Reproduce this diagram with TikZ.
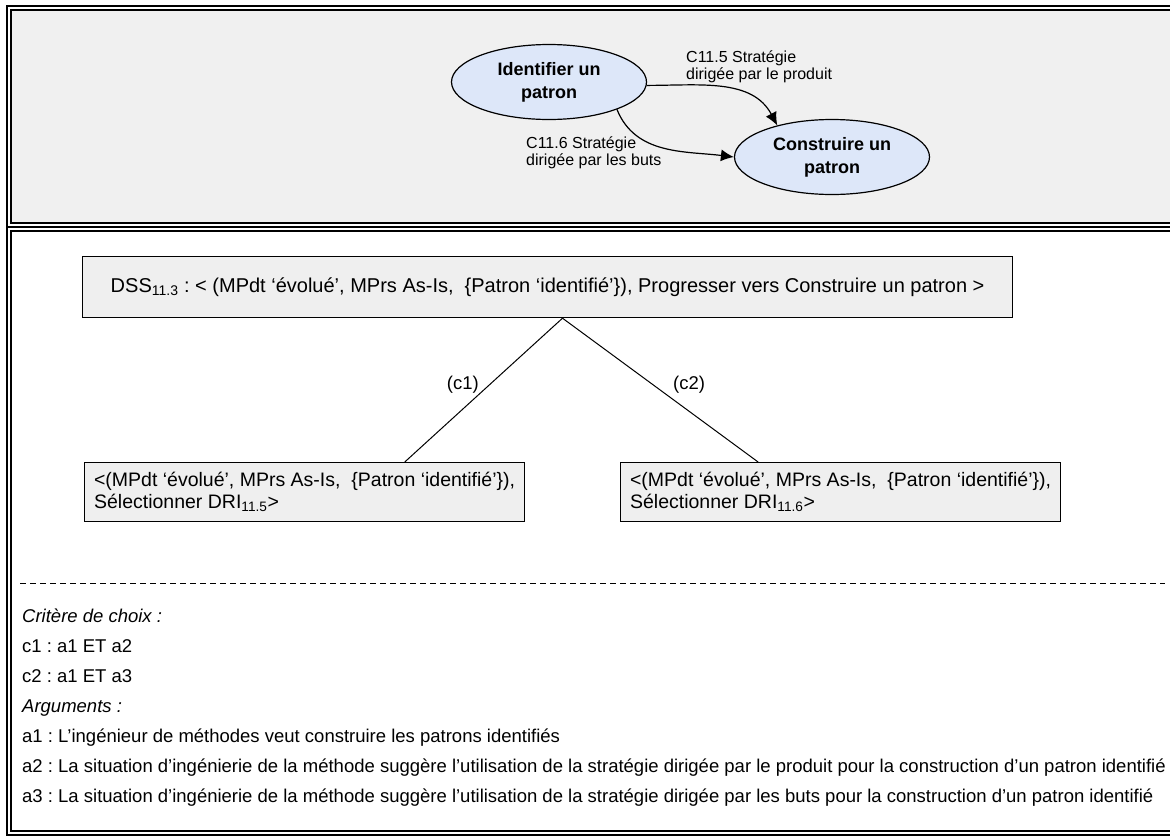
\documentclass[tikz,border=0pt]{standalone}
\usepackage{fontspec}
\setmainfont{Liberation Sans}
\frenchspacing
\usetikzlibrary{arrows.meta,calc,positioning,shapes.geometric}
\definecolor{panel}{HTML}{F0F0F0}
\definecolor{bluelite}{HTML}{DDE7F9}
\definecolor{boxgray}{HTML}{EFEFEF}

\begin{document}
\begin{tikzpicture}[x=1pt,y=1pt,>={Latex[length=13pt,width=12pt]},
  goal/.style={ellipse,draw,line width=1.2pt,fill=bluelite,minimum width=195pt,minimum height=75pt,inner sep=0pt,align=center,font=\fontsize{18}{23}\selectfont\bfseries},
  strat/.style={anchor=north west,align=left,inner sep=0pt,font=\fontsize{16}{16.5}\selectfont},
  sbox/.style={draw,line width=1.2pt,fill=boxgray,align=left,inner xsep=9pt,font=\fontsize{19.5}{22}\selectfont},
  row/.style={anchor=base west,inner sep=0pt,font=\fontsize{18.5}{20}\selectfont},
  rowit/.style={row,font=\fontsize{18.5}{20}\selectfont\itshape},
  frame/.style={line width=1.5pt}]
  \useasboundingbox (0,0) rectangle (1170,-838);
  \clip (0,0) rectangle (1170,-838);
  % double frame round the two cells
  \fill[panel] (11,-10) rectangle (1190,-223);
  \draw[frame] (7,-6) rectangle (1190,-835);
  \draw[frame] (7,-227) -- (1190,-227);
  \draw[frame] (11,-10) rectangle (1186,-223);
  \draw[frame] (11,-231) rectangle (1186,-831);
  % intentions and strategies
  \node[goal] (idf) at (549,-82) {Identifier un\\patron};
  \node[goal] (cst) at (832,-157) {Construire un\\patron};
  \draw[->,line width=1.2pt] (idf.-2) to[out=0,in=118] (cst.150);
  \draw[->,line width=1.2pt] (idf.-22) to[out=-68,in=173] (cst.west);
  \node[strat] (s5) at (686,-51) {C11.5 Stratégie\\dirigée par le produit};
  \node[strat] (s6) at (526,-137) {C11.6 Stratégie\\dirigée par les buts};
  % decision tree
  \node[sbox,anchor=north west,minimum width=930pt,minimum height=61pt,font=\fontsize{20}{22}\selectfont] (dss) at (82,-256) {DSS\textsubscript{11.3} : < (MPdt ‘évolué’, MPrs As-Is,\ \ \{Patron ‘identifié’\}), Progresser vers Construire un patron >};
  \node[sbox,anchor=north west,minimum width=440pt,minimum height=59pt] (c1box) at (84,-462) {<(MPdt ‘évolué’, MPrs As-Is,\ \ \{Patron ‘identifié’\}),\\Sélectionner DRI\textsubscript{11.5}>};
  \node[sbox,anchor=north west,minimum width=440pt,minimum height=59pt] (c2box) at (620,-462) {<(MPdt ‘évolué’, MPrs As-Is,\ \ \{Patron ‘identifié’\}),\\Sélectionner DRI\textsubscript{11.6}>};
  \coordinate (top) at ($(dss.south west)!0.516!(dss.south east)$);
  \draw[line width=1pt] (top) -- ($(c1box.north west)!0.727!(c1box.north east)$);
  \draw[line width=1pt] (top) -- ($(c2box.north west)!0.313!(c2box.north east)$);
  \node[row,anchor=base east] (l1) at (479,-389) {(c1)};
  \node[row] (l2) at (673,-389) {(c2)};
  % criteria and arguments
  \draw[dashed,dash pattern=on 6pt off 4pt,line width=0.8pt] (20,-583) -- (1165,-583);
  \node[rowit] (crit) at (22,-622) {Critère de choix :};
  \node[row] (c1) at (22,-652) {c1 : a1 ET a2};
  \node[row] (c2) at (22,-682) {c2 : a1 ET a3};
  \node[rowit] (args) at (22,-712) {Arguments :};
  \node[row] (a1) at (22,-742) {a1 : L’ingénieur de méthodes veut construire les patrons identifiés};
  \node[row] (a2) at (22,-772) {a2 : La situation d’ingénierie de la méthode suggère l’utilisation de la stratégie dirigée par le produit pour la construction d’un patron identifié};
  \node[row] (a3) at (22,-802) {a3 : La situation d’ingénierie de la méthode suggère l’utilisation de la stratégie dirigée par les buts pour la construction d’un patron identifié};
\end{tikzpicture}
\end{document}
